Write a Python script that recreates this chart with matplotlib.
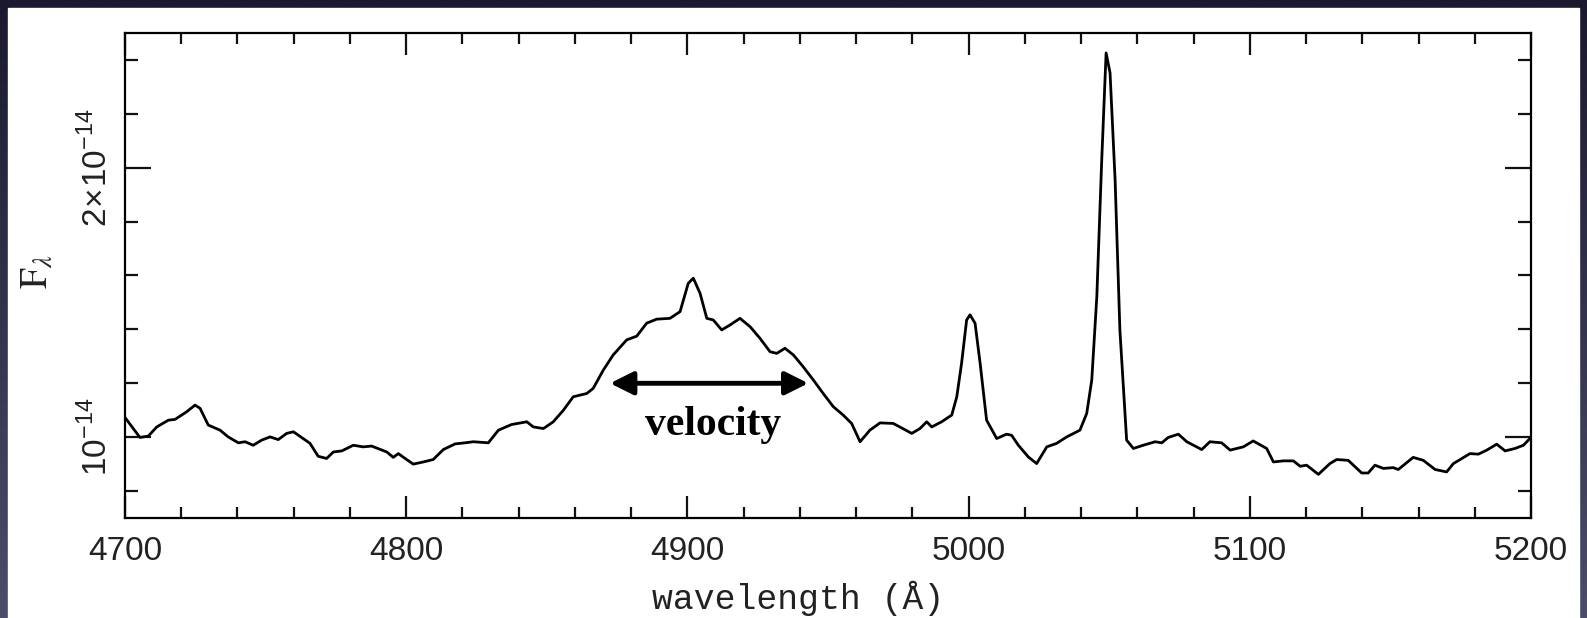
import matplotlib.pyplot as plt
import numpy as np
from matplotlib.colors import LinearSegmentedColormap
from matplotlib.patches import Rectangle
from matplotlib.ticker import MultipleLocator, FixedLocator

# spectrum: wavelength in Angstrom, flux in units of 1e-14
wavelength = [
    4700.0, 4705.3, 4708.3, 4711.3, 4715.4, 4717.8, 4721.9, 4724.9, 4726.7, 4729.6,
    4733.8, 4736.7, 4740.3, 4742.7, 4745.6, 4748.6, 4751.6, 4754.5, 4757.5, 4759.9,
    4762.8, 4765.8, 4768.7, 4771.7, 4774.1, 4777.1, 4781.2, 4784.7, 4787.7, 4793.1,
    4795.4, 4797.2, 4799.6, 4802.5, 4806.1, 4809.6, 4813.2, 4817.4, 4820.9, 4823.9,
    4829.2, 4832.8, 4837.5, 4842.9, 4845.2, 4848.8, 4852.3, 4855.9, 4859.4, 4864.2,
    4866.5, 4870.1, 4873.6, 4878.4, 4882.0, 4885.5, 4889.1, 4893.8, 4897.4, 4900.3,
    4902.1, 4904.5, 4906.9, 4909.2, 4912.2, 4915.1, 4918.7, 4922.3, 4925.8, 4929.4,
    4931.8, 4934.7, 4937.7, 4941.2, 4944.8, 4948.3, 4951.9, 4955.4, 4958.4, 4961.4,
    4964.9, 4968.5, 4973.2, 4979.8, 4982.7, 4985.1, 4986.9, 4990.4, 4994.0, 4995.8,
    4997.5, 4999.3, 5000.5, 5002.3, 5004.1, 5006.4, 5010.0, 5013.5, 5015.3, 5017.7,
    5021.2, 5024.2, 5027.8, 5031.3, 5034.9, 5039.6, 5042.0, 5043.8, 5045.6, 5047.3,
    5048.9, 5050.3, 5052.1, 5053.8, 5055.6, 5056.2, 5058.6, 5062.1, 5066.3, 5068.7,
    5071.0, 5074.6, 5077.6, 5082.9, 5085.8, 5090.0, 5093.0, 5097.7, 5101.2, 5106.0,
    5108.4, 5111.9, 5115.5, 5117.9, 5120.2, 5124.4, 5128.5, 5130.9, 5135.0, 5139.8,
    5142.1, 5144.5, 5147.5, 5151.0, 5152.8, 5158.1, 5161.7, 5165.9, 5170.0, 5172.4,
    5178.3, 5181.3, 5184.3, 5187.8, 5190.8, 5194.3, 5197.3, 5200.0,
]
flux = [
    1.073, 0.999, 1.004, 1.038, 1.063, 1.066, 1.094, 1.119, 1.107, 1.045,
    1.026, 1.001, 0.979, 0.983, 0.970, 0.989, 1.001, 0.991, 1.014, 1.020,
    0.999, 0.977, 0.929, 0.921, 0.945, 0.949, 0.970, 0.964, 0.967, 0.945,
    0.925, 0.939, 0.921, 0.900, 0.908, 0.917, 0.954, 0.975, 0.979, 0.983,
    0.979, 1.026, 1.047, 1.057, 1.038, 1.032, 1.057, 1.100, 1.150, 1.162,
    1.181, 1.249, 1.305, 1.361, 1.375, 1.423, 1.438, 1.441, 1.466, 1.571,
    1.590, 1.534, 1.441, 1.435, 1.398, 1.416, 1.441, 1.410, 1.367, 1.317,
    1.311, 1.330, 1.305, 1.261, 1.212, 1.162, 1.113, 1.082, 1.051, 0.983,
    1.026, 1.053, 1.051, 1.014, 1.032, 1.057, 1.038, 1.057, 1.082, 1.150,
    1.274, 1.435, 1.454, 1.423, 1.274, 1.063, 0.995, 1.011, 1.007, 0.970,
    0.927, 0.902, 0.964, 0.977, 1.001, 1.026, 1.088, 1.212, 1.522, 2.017,
    2.426, 2.352, 1.955, 1.398, 1.088, 0.989, 0.958, 0.970, 0.983, 0.979,
    0.999, 1.011, 0.983, 0.954, 0.983, 0.979, 0.952, 0.964, 0.986, 0.958,
    0.908, 0.912, 0.912, 0.892, 0.896, 0.862, 0.902, 0.917, 0.914, 0.867,
    0.867, 0.896, 0.884, 0.887, 0.880, 0.925, 0.914, 0.880, 0.871, 0.902,
    0.939, 0.937, 0.952, 0.974, 0.949, 0.958, 0.970, 0.999,
]

y_major = [1.0, 2.0]
y_minor = [0.8, 1.2, 1.4, 1.6, 1.8, 2.2, 2.4]
y_tick_labels = [r'$10^{-14}$', r'$2\!\times\!10^{-14}$']
arrow_span = [4872.5, 4943.0]
arrow_level = 1.20

plt.rcParams['font.family'] = ['Liberation Sans', 'DejaVu Sans']
plt.rcParams['mathtext.fontset'] = 'custom'
plt.rcParams['mathtext.rm'] = 'Liberation Sans'

W, H = 1587, 618
fig = plt.figure(figsize=(W / 100, H / 100), dpi=100)

# dark slide frame around the white figure
bg = fig.add_axes([0, 0, 1, 1])
grad = np.linspace(0, 1, 256).reshape(-1, 1)
cmap = LinearSegmentedColormap.from_list('slide', ['#1a192f', '#4b4d69'])
bg.imshow(grad, aspect='auto', cmap=cmap, extent=[0, W, H, 0])
bg.add_patch(Rectangle((8, 8), 1571, 612, color='white'))
bg.set_xlim(0, W)
bg.set_ylim(H, 0)
bg.axis('off')

ax = fig.add_axes([125 / W, 1 - 518 / H, (1531 - 125) / W, (518 - 33) / H])
ax.plot(wavelength, np.array(flux) * 1e-14, color='black', lw=2.0,
        solid_joinstyle='round')

ax.set_xlim(4700, 5200)
ax.set_ylim(0.70e-14, 2.50e-14)
ax.xaxis.set_major_locator(MultipleLocator(100))
ax.xaxis.set_minor_locator(MultipleLocator(20))
ax.set_yticks(np.array(y_major) * 1e-14)
ax.set_yticklabels(y_tick_labels, rotation=90, va='center')
ax.yaxis.set_minor_locator(FixedLocator(np.array(y_minor) * 1e-14))

for s in ax.spines.values():
    s.set_linewidth(1.6)
ax.tick_params(which='both', direction='in', top=True, right=True, width=1.6,
               colors='#111111', labelcolor='#222222')
ax.tick_params(axis='x', which='major', length=16, labelsize=24, pad=13)
ax.tick_params(axis='x', which='minor', length=8)
ax.tick_params(axis='y', which='major', length=19, labelsize=24, pad=8)
ax.tick_params(axis='y', which='minor', length=9.5)

ax.set_xlabel('wavelength (Å)', family='Liberation Mono', size=25, color='#222222')
ax.xaxis.set_label_coords(0.4787, -0.13)
ax.set_ylabel(r'$\mathrm{F}_{\lambda}$', math_fontfamily='stix', size=27, color='#222222')
ax.yaxis.set_label_coords(-0.05, 0.509)

ax.annotate('', xy=(arrow_span[1], arrow_level * 1e-14),
            xytext=(arrow_span[0], arrow_level * 1e-14),
            arrowprops=dict(arrowstyle='<|-|>,head_length=1.0,head_width=0.5',
                            lw=3.5, color='black', shrinkA=0, shrinkB=0,
                            mutation_scale=14))
ax.text(4909.2, 1.007e-14, 'velocity', family='Liberation Serif', weight='bold',
        size=30, ha='center', va='baseline')

fig.savefig('out.png', dpi=100)
